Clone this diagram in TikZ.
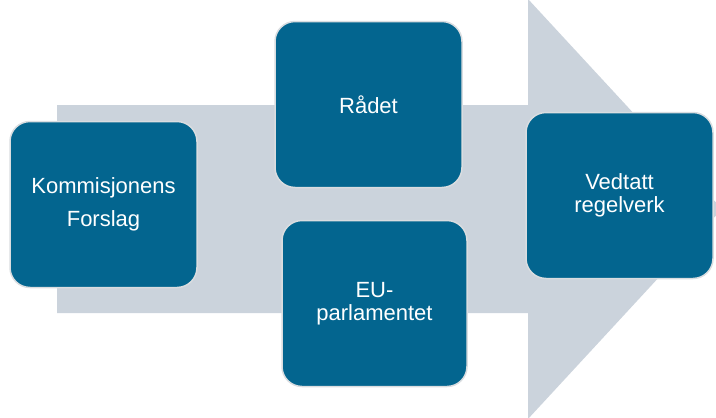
\documentclass[tikz,border=0pt]{standalone}
\usepackage{fontspec}
\setmainfont{Liberation Sans}
\definecolor{boxblue}{HTML}{03658F}
\definecolor{arrowgray}{HTML}{CBD3DC}
\definecolor{rimgray}{HTML}{DADDE0}
\begin{document}
\begin{tikzpicture}[x=1pt,y=-1pt,
  stagebox/.style={draw=rimgray, line width=1.5pt, fill=boxblue, rounded corners=20pt,
    minimum width=187pt, minimum height=166pt, inner sep=0pt, outer sep=0pt,
    text=white, align=center, font=\fontsize{22}{23}\selectfont}]
\useasboundingbox (0,0) rectangle (716,418);
\begin{scope}
\clip (0,0) rectangle (716,418);
\fill[arrowgray] (57,105) -- (528,105) -- (528,-1) -- (722,209) -- (528,419) -- (528,313) -- (57,313) -- cycle;
\end{scope}
\node[stagebox] (komm) at (103.5,204.5) {Kommisjonens\\[10pt]Forslag};
\node[stagebox] (radet) at (368.5,104.5) {Rådet};
\node[stagebox, minimum width=185pt] (eu) at (374.5,303.5) {EU-\\parlamentet};
\node[stagebox] (vedtatt) at (619.5,195.5) {Vedtatt\\regelverk};
\end{tikzpicture}
\end{document}
